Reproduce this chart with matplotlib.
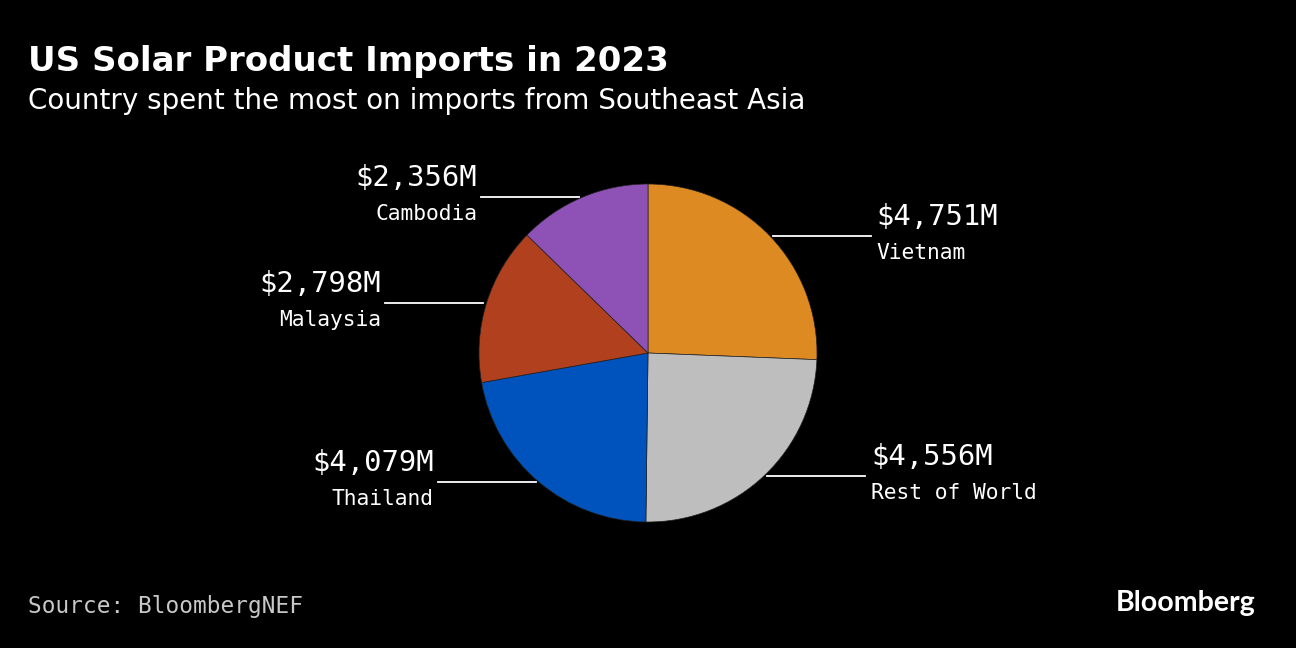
import matplotlib.pyplot as plt
import numpy as np

countries = ["Vietnam", "Rest of World", "Thailand", "Malaysia", "Cambodia"]
values = [4751, 4556, 4079, 2798, 2356]
value_labels = ["$4,751M", "$4,556M", "$4,079M", "$2,798M", "$2,356M"]
colors = ["#DE8A23", "#BEBEBE", "#0052BC", "#B0401E", "#8E52B7"]

W, H = 1296, 648
fig = plt.figure(figsize=(12.96, 6.48), dpi=100, facecolor="black")
ax = fig.add_axes([0, 0, 1, 1])
ax.set_facecolor("black")

cx, cy, r = 648, H - 353, 169
wedges, _ = ax.pie(values, colors=colors, startangle=90, counterclock=False,
                   center=(cx, cy), radius=r, frame=True,
                   wedgeprops=dict(edgecolor="#222222", linewidth=0.5))
ax.set_xlim(0, W)
ax.set_ylim(0, H)
ax.set_aspect("equal")
ax.axis("off")

# leader lines + labels
mono = "DejaVu Sans Mono"
for w, name, val in zip(wedges, countries, value_labels):
    mid = np.deg2rad((w.theta1 + w.theta2) / 2)
    x0 = cx + r * np.cos(mid)
    y0 = cy + r * np.sin(mid)
    if np.cos(mid) >= 0:
        x0 += 3
        x1 = x0 + 98
        tx, ha = x1 + 6, "left"
    else:
        x0 -= 3
        x1 = x0 - 98
        tx, ha = x1 - 4, "right"
    ax.plot([x0, x1], [y0, y0], color="white", lw=1.3)
    ax.text(tx, y0 + 19, val, color="white", fontsize=20.8, family=mono,
            ha=ha, va="center")
    ax.text(tx, y0 - 17, name, color="white", fontsize=15.3, family=mono,
            ha=ha, va="center")

fig.text(28 / W, 1 - 62 / H, "US Solar Product Imports in 2023", color="white",
         fontsize=24.5, fontweight="bold", family="DejaVu Sans", va="center")
fig.text(28 / W, 1 - 101 / H, "Country spent the most on imports from Southeast Asia",
         color="white", fontsize=20, family="DejaVu Sans", va="center")
fig.text(28 / W, 1 - 606 / H, "Source: BloombergNEF", color="#C8C8C8",
         fontsize=16.4, family=mono, va="center")
fig.text(1256 / W, 1 - 603 / H, "Bloomberg", color="white", fontsize=20.5,
         fontweight="bold", family="Lato", ha="right", va="center")

fig.savefig("out.png", dpi=100, facecolor="black")
